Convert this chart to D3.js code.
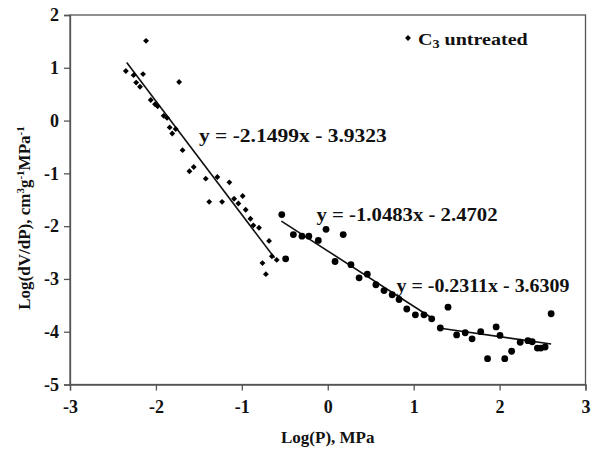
<!DOCTYPE html>
<html><head><meta charset="utf-8">
<script src="https://cdn.jsdelivr.net/npm/d3@7"></script>
<style>
html,body{margin:0;padding:0;background:#fff;}
svg{display:block;}
text{font-family:"Liberation Serif","Times New Roman",serif;font-weight:bold;fill:#111;}
</style></head>
<body>
<script>
// Data
const diamondX = [-2.35,-2.115,-2.26,-2.15,-2.23,-2.185,-1.73,-2.06,-2.01,-1.98,-1.91,-1.87,-1.84,-1.77,-1.81,-1.69,-1.56,-1.61,-1.42,-1.285,-1.145,-1.38,-1.23,-1.09,-1.04,-0.99,-0.955,-0.90,-0.866,-0.80,-0.683,-0.65,-0.594,-0.76,-0.72];
const diamondY = [0.94,1.51,0.86,0.88,0.72,0.64,0.73,0.39,0.31,0.27,0.09,0.05,-0.13,-0.16,-0.245,-0.56,-0.88,-0.96,-1.10,-1.07,-1.17,-1.54,-1.54,-1.48,-1.57,-1.43,-1.69,-1.86,-1.985,-2.03,-2.28,-2.57,-2.64,-2.70,-2.91];
const circleX = [-0.535,-0.49,-0.40,-0.30,-0.22,-0.11,-0.02,0.085,0.18,0.27,0.365,0.46,0.56,0.655,0.75,0.83,0.92,1.02,1.12,1.21,1.40,1.31,1.50,1.60,1.68,1.78,1.96,2.005,1.86,2.06,2.14,2.24,2.33,2.38,2.44,2.48,2.53,2.60];
const circleY = [-1.78,-2.62,-2.16,-2.19,-2.19,-2.27,-2.06,-2.67,-2.16,-2.73,-2.98,-2.91,-3.11,-3.22,-3.30,-3.39,-3.57,-3.68,-3.68,-3.755,-3.535,-3.93,-4.06,-4.02,-4.135,-4.00,-3.91,-4.07,-4.51,-4.51,-4.37,-4.20,-4.17,-4.19,-4.31,-4.31,-4.29,-3.66];
const fitSlopes = [-2.1499,-1.0483,-0.2311];
const fitIntercepts = [-3.9323,-2.4702,-3.6309];
const fitStartX = [-2.34,-0.54,1.29];
const fitEndX = [-0.62,1.23,2.60];
const fitLabels = ["y = -2.1499x - 3.9323","y = -1.0483x - 2.4702","y = -0.2311x - 3.6309"];
const fitLabelX = [-1.50,-0.13,0.80];   // label left edge in data units
const fitLabelY = [-0.40,-1.90,-3.25];  // label baseline in data units
const xTicks = [-3,-2,-1,0,1,2,3];
const yTicks = [-5,-4,-3,-2,-1,0,1,2];
const legendLabel = ["C","3"," untreated"];
const xTitle = "Log(P), MPa";

const W = 591, H = 453;
const m = {l:70, r:5.5, t:15, b:68.5};
const labelLen = [188,181,173];
const svg = d3.select("body").append("svg").attr("width",W).attr("height",H);
const x = d3.scaleLinear().domain([-3,3]).range([m.l, W-m.r]);
const y = d3.scaleLinear().domain([-5,2]).range([H-m.b, m.t]);
const fmt = d => String(d); // plain hyphen minus, as in the original

// frame
svg.append("rect").attr("x",x(-3)).attr("y",y(2)).attr("width",x(3)-x(-3)).attr("height",y(-5)-y(2))
  .attr("fill","none").attr("stroke","#555").attr("stroke-width",1.3);

const xa = svg.append("g").attr("transform",`translate(0,${y(-5)})`)
  .call(d3.axisBottom(x).tickValues(xTicks).tickSize(6).tickPadding(10).tickFormat(fmt));
const ya = svg.append("g").attr("transform",`translate(${x(-3)},0)`)
  .call(d3.axisLeft(y).tickValues(yTicks).tickSize(6).tickPadding(5).tickFormat(fmt));
[xa,ya].forEach(g=>{
  g.select(".domain").attr("stroke","#555").attr("stroke-width",1.3);
  g.selectAll(".tick line").attr("stroke","#555").attr("stroke-width",1.3);
  g.selectAll(".tick text").style("font-family",'"Liberation Serif",serif').style("font-weight","bold")
    .style("font-size","18px").attr("fill","#111");
});

// fit lines
fitSlopes.forEach((s,i)=>{
  const x0 = fitStartX[i], x1 = fitEndX[i];
  svg.append("line").attr("x1",x(x0)).attr("y1",y(s*x0+fitIntercepts[i]))
    .attr("x2",x(x1)).attr("y2",y(s*x1+fitIntercepts[i]))
    .attr("stroke","#111").attr("stroke-width",1.6);
});

// points
const dia = d3.symbol().type(d3.symbolDiamond2).size(22);
svg.append("g").selectAll("path").data(diamondX).join("path")
  .attr("d",dia).attr("transform",(d,i)=>`translate(${x(d)},${y(diamondY[i])})`).attr("fill","#000");
svg.append("g").selectAll("circle").data(circleX).join("circle")
  .attr("cx",d=>x(d)).attr("cy",(d,i)=>y(circleY[i])).attr("r",3.4).attr("fill","#000");

// equation labels
fitLabels.forEach((t,i)=>{
  svg.append("text").attr("x",x(fitLabelX[i])).attr("y",y(fitLabelY[i]))
    .attr("textLength",labelLen[i]).attr("lengthAdjust","spacingAndGlyphs")
    .style("font-size","18px").text(t);
});

// legend
svg.append("path").attr("d",dia).attr("transform",`translate(408,38)`).attr("fill","#000");
const lt = svg.append("g").attr("transform","translate(418,45) scale(1.18,1)")
  .append("text").attr("x",0).attr("y",0).style("font-size","17px");
lt.append("tspan").text(legendLabel[0]);
lt.append("tspan").attr("dy",3).style("font-size","12px").text(legendLabel[1]);
lt.append("tspan").attr("dy",-3).text(legendLabel[2]);

// axis titles
svg.append("text").attr("x",(x(-3)+x(3))/2).attr("y",443).attr("text-anchor","middle")
  .style("font-size","17px").text(xTitle);
const yt = svg.append("text").attr("transform","translate(30,218) rotate(-90)").attr("text-anchor","middle")
  .style("font-size","17px");
yt.append("tspan").text("Log(dV/dP), cm");
yt.append("tspan").attr("dy",-6).style("font-size","11px").text("3");
yt.append("tspan").attr("dy",6).text("g");
yt.append("tspan").attr("dy",-6).style("font-size","11px").text("-1");
yt.append("tspan").attr("dy",6).text("MPa");
yt.append("tspan").attr("dy",-6).style("font-size","11px").text("-1");
</script>
</body></html>
